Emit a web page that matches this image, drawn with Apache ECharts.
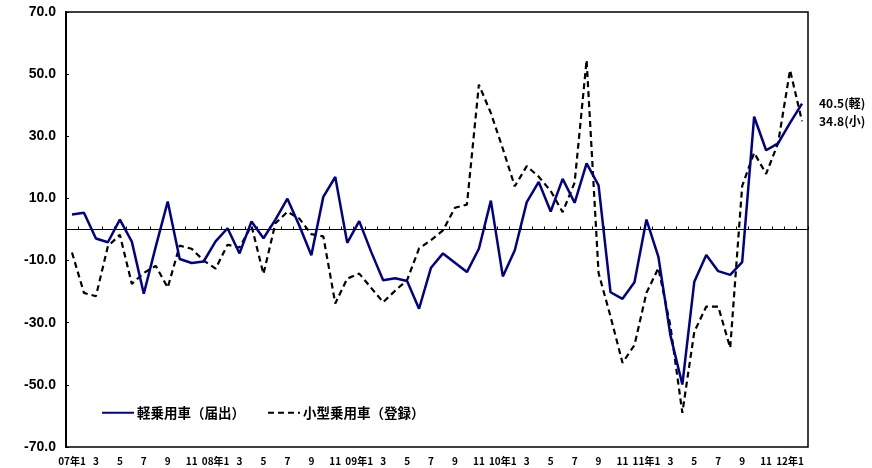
<!DOCTYPE html>
<html>
<head>
<meta charset="utf-8">
<script src="https://cdn.jsdelivr.net/npm/echarts@6/dist/echarts.min.js"></script>
<style>
  html, body { margin: 0; padding: 0; background: #fff; }
  #chart { width: 872px; height: 468px; }
</style>
</head>
<body>
<div id="chart"></div>
<script>
// Monthly series, 2007 Jan – 2012 Feb (year-on-year change, %)
const years = ['07', '08', '09', '10', '11', '12'];
const monthsInLastYear = 2;

const keiSeries = [
  4.8, 5.4, -2.9, -4.1, 3.2, -3.9, -20.7, -5.5, 9.0, -9.5, -10.8, -10.3,
  -3.8, 0.4, -7.7, 2.6, -2.8, 3.2, 9.9, 1.2, -8.3, 10.5, 16.9, -4.3,
  2.7, -7.2, -16.3, -15.7, -16.6, -25.5, -12.3, -7.7, -10.7, -13.7, -6.2, 9.3,
  -15.1, -6.7, 8.8, 15.3, 5.8, 16.3, 8.6, 21.3, 14.2, -20.2, -22.3, -17.0,
  3.2, -8.8, -34.0, -49.9, -16.8, -8.2, -13.4, -14.6, -10.5, 36.3, 25.5, 27.7,
  34.3, 40.5
];

const kogataSeries = [
  -7.4, -20.4, -21.5, -5.4, -1.7, -17.5, -14.0, -11.7, -18.7, -5.2, -6.2, -10.0,
  -12.6, -4.9, -5.8, 1.2, -14.3, 2.0, 5.7, 3.5, -1.5, -2.2, -23.8, -15.8,
  -14.2, -18.8, -23.4, -19.7, -16.3, -6.1, -3.4, -0.3, 7.0, 8.0, 46.6, 37.5,
  26.0, 13.9, 20.4, 17.0, 12.4, 5.6, 15.1, 54.5, -14.0, -28.0, -42.9, -37.2,
  -20.4, -12.4, -31.0, -59.0, -32.9, -24.8, -24.8, -38.1, 14.0, 24.7, 17.9, 27.8,
  51.3, 34.8
];

const seriesNames = ['軽乗用車（届出）', '小型乗用車（登録）'];
const endTags = ['(軽)', '(小)'];
const yTicks = { min: -70, max: 70, step: 20 };

// Category labels: "07年1", 2, 3, ... "08年1", ...
const categories = [];
years.forEach((y, yi) => {
  const n = yi === years.length - 1 ? monthsInLastYear : 12;
  for (let m = 1; m <= n; m++) categories.push(m === 1 ? y + '年1' : String(m));
});

const jpFont = '"Noto Sans CJK JP", "Liberation Sans", sans-serif';
const numFont = '"Liberation Sans", "Noto Sans", sans-serif';

const chart = echarts.init(document.getElementById('chart'), null, { renderer: 'canvas' });

chart.setOption({
  animation: false,
  backgroundColor: '#fff',
  grid: {
    left: 66, right: 64, top: 12, bottom: 21,
    show: true, borderColor: '#000', borderWidth: 1.5,
    containLabel: false
  },
  legend: {
    left: 96, top: 401,
    itemWidth: 32, itemHeight: 14, itemGap: 22,
    data: seriesNames,
    itemStyle: { opacity: 0 },
    textStyle: { fontFamily: jpFont, fontWeight: 'bold', fontSize: 13.5, color: '#000', padding: [0, 0, 0, -2] }
  },
  xAxis: [
    {
      // zero line with month ticks
      type: 'category',
      data: categories,
      position: 'top',
      boundaryGap: true,
      axisLine: { onZero: true, lineStyle: { color: '#000', width: 1 } },
      axisTick: { show: true, inside: false, length: 3, interval: 0, lineStyle: { color: '#000' } },
      axisLabel: { show: false },
      splitLine: { show: false }
    },
    {
      // month labels along the bottom frame
      type: 'category',
      data: categories,
      position: 'bottom',
      boundaryGap: true,
      axisLine: { show: false, onZero: false },
      axisTick: { show: false },
      axisLabel: {
        interval: 1, margin: 9,
        fontFamily: jpFont, fontWeight: 'bold', fontSize: 10, color: '#000'
      },
      splitLine: { show: false }
    }
  ],
  yAxis: {
    type: 'value',
    min: yTicks.min, max: yTicks.max, interval: yTicks.step,
    axisLine: { show: true, lineStyle: { color: '#000', width: 2 } },
    axisTick: { show: true, inside: true, length: 3, lineStyle: { color: '#000' } },
    axisLabel: {
      margin: 10,
      fontFamily: numFont, fontWeight: 'bold', fontSize: 14, color: '#000',
      formatter: v => v.toFixed(1)
    },
    splitLine: { show: false }
  },
  series: [
    {
      name: seriesNames[0],
      type: 'line',
      data: keiSeries,
      symbol: 'none',
      color: '#00008b',
      lineStyle: { color: '#00008b', width: 2.5 },
      z: 3,
      endLabel: {
        show: true, distance: 17,
        fontFamily: jpFont, fontWeight: 'bold', fontSize: 12, color: '#000',
        formatter: p => p.value.toFixed(1) + endTags[0]
      }
    },
    {
      name: seriesNames[1],
      type: 'line',
      data: kogataSeries,
      symbol: 'none',
      color: '#000',
      lineStyle: { color: '#000', width: 2.2, type: [6, 4] },
      z: 2,
      endLabel: {
        show: true, distance: 17,
        fontFamily: jpFont, fontWeight: 'bold', fontSize: 12, color: '#000',
        formatter: p => p.value.toFixed(1) + endTags[1]
      }
    }
  ]
});
</script>
</body>
</html>
